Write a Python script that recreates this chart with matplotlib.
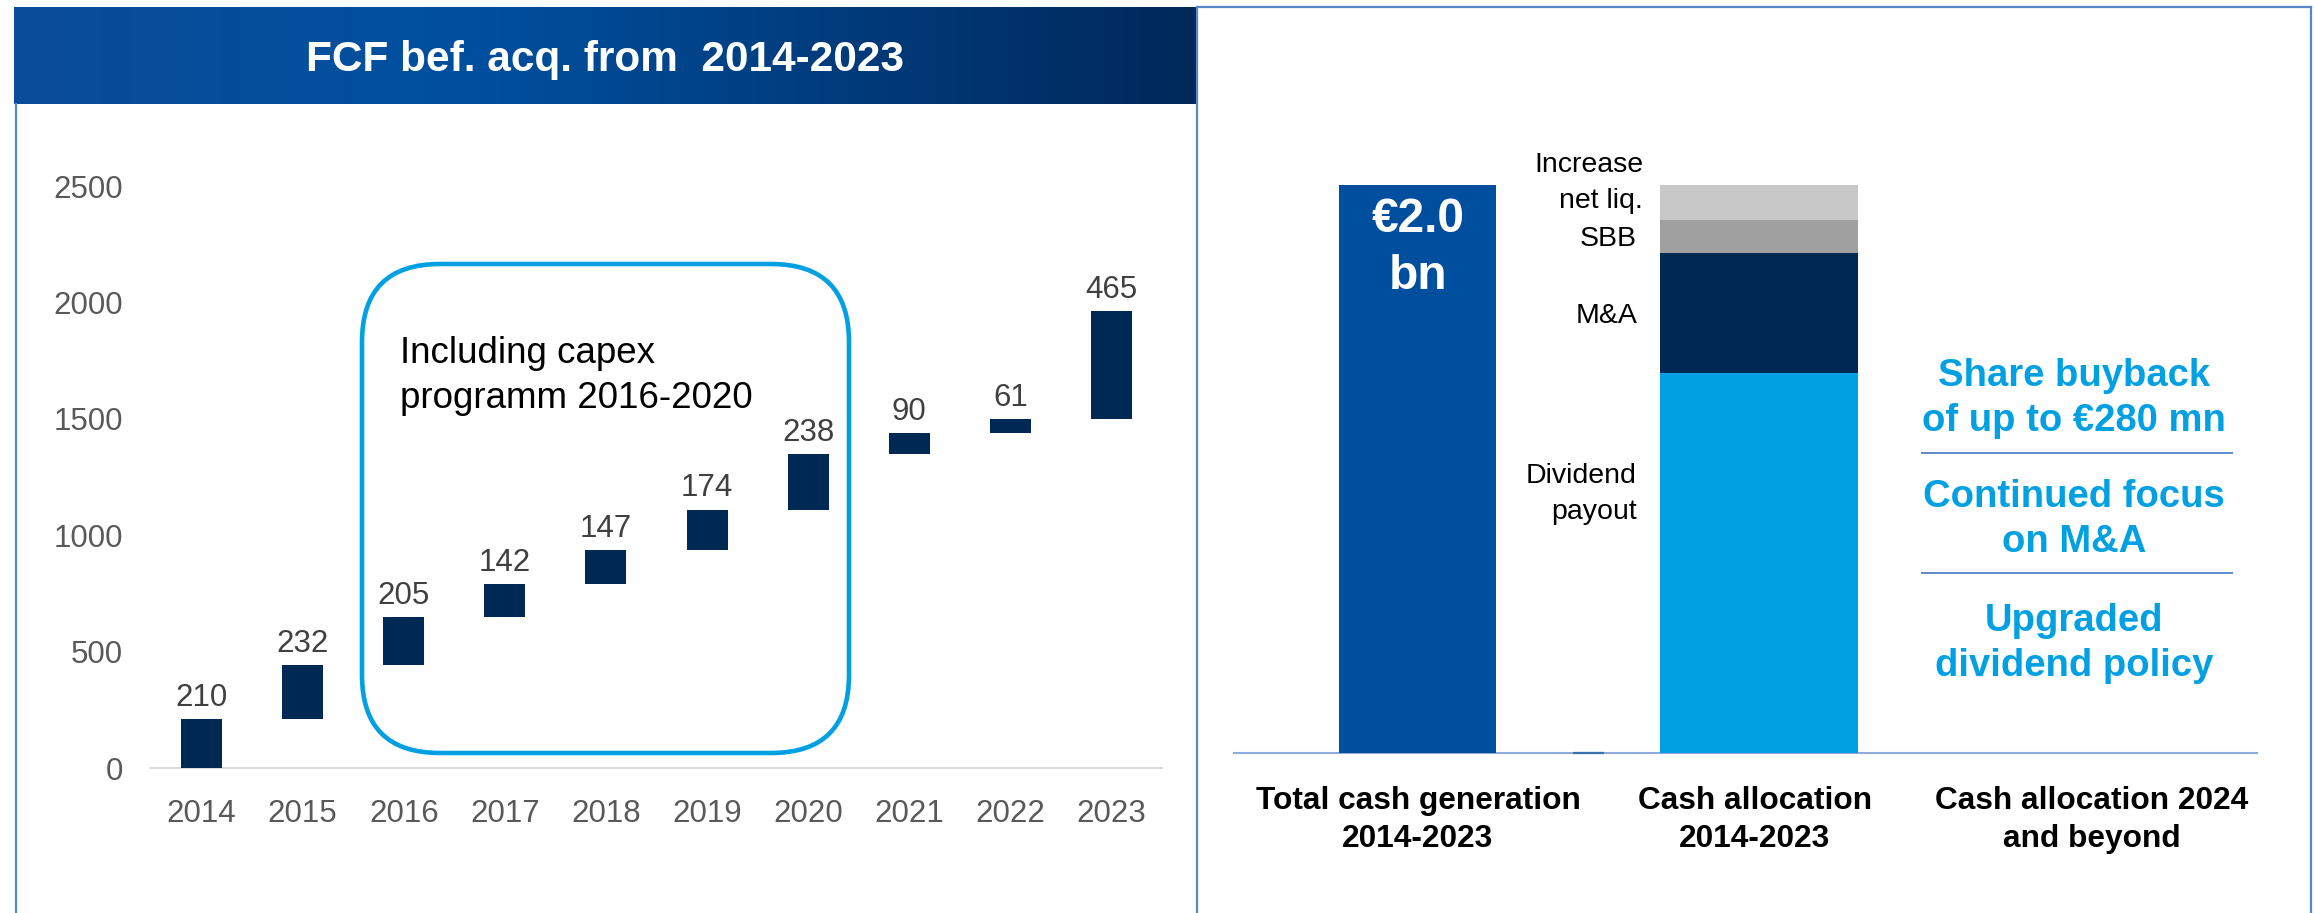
import numpy as np
import matplotlib
matplotlib.use("Agg")
import matplotlib.pyplot as plt
from matplotlib.patches import FancyBboxPatch
from matplotlib.lines import Line2D
from matplotlib.colors import LinearSegmentedColormap
from matplotlib.transforms import IdentityTransform

plt.rcParams['font.family'] = ['Liberation Sans', 'DejaVu Sans']

# ---- data (€ mn) ----
years = ['2014', '2015', '2016', '2017', '2018', '2019', '2020', '2021', '2022', '2023']
fcf = [210, 232, 205, 142, 147, 174, 238, 90, 61, 465]
y_ticks = [0, 500, 1000, 1500, 2000, 2500]

alloc_labels = ['Dividend\npayout', 'M&A', 'SBB', 'Increase\nnet liq.']
alloc_values = [1314, 415, 114, 121]
col_labels = ['Total cash generation\n2014-2023', 'Cash allocation\n2014-2023',
              'Cash allocation 2024\nand beyond']
outlook = ['Share buyback\nof up to €280 mn', 'Continued focus\non M&A',
           'Upgraded\ndividend policy']

# ---- colours ----
NAVY = '#002855'
ROYAL = '#004F9F'
CYAN = '#00A0E3'
FRAME = '#5A87C5'
alloc_colors = [CYAN, NAVY, '#A0A0A0', '#C8C8C8']

W, H = 2315, 913
fig = plt.figure(figsize=(W / 100, H / 100), dpi=100, facecolor='white')


def fx(x):
    return x / W


def fy(y):
    return 1 - y / H


# ---- panel frames ----
for xs, ys in [([15.5, 15.5], [104, 913]),
               ([1197, 1197], [7, 913]),
               ([1197, 2311], [7, 7]),
               ([2311, 2311], [7, 913])]:
    fig.add_artist(Line2D([fx(x) for x in xs], [fy(y) for y in ys],
                          color=FRAME, lw=1.6))

# ---- title banner with gradient ----
bax = fig.add_axes([fx(14), fy(104), (1197 - 14) / W, (104 - 7) / H])
grad = LinearSegmentedColormap.from_list(
    'banner', [(0.0, '#0B4C98'), (0.38, '#0050A0'), (1.0, '#00285A')])
bax.imshow(np.linspace(0, 1, 600).reshape(1, -1), cmap=grad, aspect='auto',
           extent=[0, 1, 0, 1])
bax.set_axis_off()
fig.text(fx(605), fy(71), 'FCF bef. acq. from  2014-2023', ha='center',
         va='baseline', color='white', fontsize=30.5, fontweight='bold')

# ---- left: FCF waterfall ----
ax = fig.add_axes([fx(151), fy(768), (1162 - 151) / W, (768 - 186) / H])
x = np.arange(len(years))
tops = np.cumsum(fcf)
bottoms = tops - np.array(fcf)
ax.bar(x, fcf, bottom=bottoms, width=0.405, color=NAVY, zorder=3)
for xi, v, t in zip(x, fcf, tops):
    ax.annotate(str(v), (xi, t), xytext=(0, 9.5), textcoords='offset points',
                ha='center', va='baseline', fontsize=22.5, color='#404040')
ax.set_xlim(-0.5, len(years) - 0.5)
ax.set_ylim(0, 2500)
ax.set_yticks(y_ticks)
ax.set_xticks(x, years)
ax.tick_params(axis='y', length=0, pad=20, labelsize=22.5, labelcolor='#595959')
ax.tick_params(axis='x', length=0, pad=22, labelsize=22.5, labelcolor='#595959')
for s in ['top', 'right', 'left']:
    ax.spines[s].set_visible(False)
ax.spines['bottom'].set_color('#D9D9D9')
ax.spines['bottom'].set_linewidth(1.5)
ax.patch.set_visible(False)

# capex programme highlight
box = FancyBboxPatch((362, H - 753), 849 - 362, 753 - 264,
                     boxstyle='round,pad=0,rounding_size=78',
                     transform=IdentityTransform(), fill=False,
                     ec=CYAN, lw=3.3)
fig.add_artist(box)
fig.text(fx(400), fy(408), 'Including capex\nprogramm 2016-2020', ha='left',
         va='baseline', fontsize=26.5, color='black', linespacing=1.37)

# ---- right: cash generation vs allocation ----
ax2 = fig.add_axes([fx(1234), fy(753), (2257 - 1234) / W, (753 - 102) / H])
ax2.set_xlim(-0.546, 2.49)
ax2.set_ylim(0, 2250)
total_cash = int(np.sum(fcf))
ax2.bar(0, total_cash, width=0.466, color=ROYAL, zorder=3)
ax2.annotate(f'€{total_cash / 1000:.1f}\nbn', (0, total_cash), xytext=(0, -75),
             textcoords='offset points', ha='center', va='baseline',
             color='white', fontsize=34.5, fontweight='bold', linespacing=1.33,
             zorder=5)

alloc_x = 1.012
bot = 0
for lab, v, c in zip(alloc_labels, alloc_values, alloc_colors):
    ax2.bar(alloc_x, v, bottom=bot, width=0.588, color=c, zorder=3)
    bot += v
stack_top = bot
cum = np.cumsum(alloc_values)
mids = cum - np.array(alloc_values) / 2
# segment labels to the left of the stacked bar
ax2.text(0.65, 810, alloc_labels[0], ha='right', va='baseline', fontsize=20.5,
         linespacing=1.5)
ax2.text(0.65, mids[1], alloc_labels[1], ha='right', va='center_baseline',
         fontsize=20.5)
ax2.text(0.65, mids[2], alloc_labels[2], ha='right', va='center_baseline',
         fontsize=20.5)
ax2.annotate(alloc_labels[3], (0.668, stack_top), xytext=(0, -16.6),
             textcoords='offset points', ha='right', va='baseline',
             fontsize=20.5, linespacing=1.5)

# small marker on the baseline between the bars
ax2.plot([0.46, 0.552], [0, 0], color='#3A72B0', lw=1.6,
         solid_capstyle='butt', clip_on=False, zorder=4)

ax2.set_xticks([0, 1, 2], col_labels)
ax2.tick_params(axis='x', length=0, pad=23.5, labelsize=22.8)
for t in ax2.get_xticklabels():
    t.set_fontweight('bold')
    t.set_linespacing(1.38)
ax2.set_yticks([])
for s in ['top', 'right', 'left']:
    ax2.spines[s].set_visible(False)
ax2.spines['bottom'].set_color('#8FAADC')
ax2.spines['bottom'].set_linewidth(1.5)
ax2.patch.set_visible(False)

# outlook column
for txt, base in zip(outlook, [431, 552, 676]):
    fig.text(fx(2074), fy(base), txt, ha='center', va='baseline', color=CYAN,
             fontsize=27.5, fontweight='bold', linespacing=1.32)
for yy in [453, 573]:
    fig.add_artist(Line2D([fx(1922), fx(2232)], [fy(yy), fy(yy)],
                          color='#5B8BC9', lw=1.4))

fig.savefig('out.png', dpi=100, facecolor='white')
